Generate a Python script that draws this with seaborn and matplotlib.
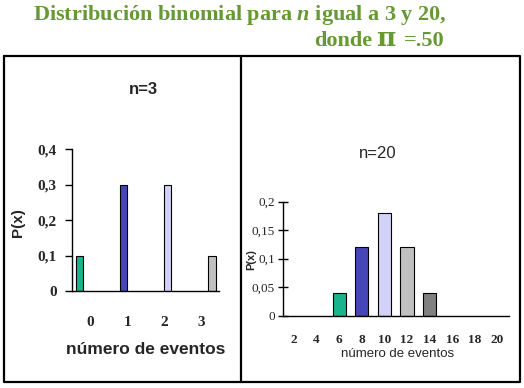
# Distribución binomial para n = 3 y n = 20, pi = .50
import pandas as pd
import seaborn as sns
import matplotlib.pyplot as plt
from matplotlib import font_manager
from matplotlib.lines import Line2D

# n = 3
eventos_n3 = ['0', '1', '2', '3']
prob_n3 = [0.1, 0.3, 0.3, 0.1]
colores_n3 = ['#00CC99', '#3333CC', '#CCCCFF', '#C0C0C0']
yticks_n3 = [0, 0.1, 0.2, 0.3, 0.4]
ylabels_n3 = ['0', '0,1', '0,2', '0,3', '0,4']

# n = 20 (solo se ven las barras de 6 a 14)
categorias_n20 = ['2', '4', '6', '8', '10', '12', '14', '16', '18', '20']
eventos_n20 = ['6', '8', '10', '12', '14']
prob_n20 = [0.04, 0.12, 0.18, 0.12, 0.04]
colores_n20 = ['#00CC99', '#3333CC', '#CCCCFF', '#C0C0C0', '#808080']
yticks_n20 = [0, 0.05, 0.1, 0.15, 0.2]
ylabels_n20 = ['0', '0,05', '0,1', '0,15', '0,2']

sns.set_style('white')
plt.rcParams['font.family'] = ['Liberation Sans', 'DejaVu Sans']
plt.rcParams['mathtext.fontset'] = 'custom'
plt.rcParams['mathtext.it'] = 'Liberation Serif:italic:bold'
plt.rcParams['mathtext.rm'] = 'Liberation Serif:bold'

names = {f.name for f in font_manager.fontManager.ttflist}
narrow = 'Liberation Sans Narrow' if 'Liberation Sans Narrow' in names else 'Liberation Sans'
serif = 'Liberation Serif'
verde = '#669933'

W, H = 524, 388
fig = plt.figure(figsize=(W / 100, H / 100), dpi=100)

def fx(px):
    return px / W

def fy(py):
    return 1 - py / H

# marco de los paneles
for xs, ys in [([4, 520, 520, 4, 4], [56, 56, 382, 382, 56]), ([240.5, 240.5], [56, 382])]:
    fig.add_artist(Line2D([fx(v) for v in xs], [fy(v) for v in ys], color='black', lw=1.6))

# titulo
fig.text(fx(239.5), fy(20), r'Distribución binomial para $n$ igual a 3 y 20,',
         ha='center', va='baseline', color=verde, fontsize=16,
         fontfamily=serif, fontweight='bold')
fig.text(fx(372), fy(46), 'donde', ha='right', va='baseline', color=verde,
         fontsize=16, fontfamily=serif, fontweight='bold')
fig.text(fx(376), fy(46), 'π', ha='left', va='baseline', color=verde,
         fontsize=19, fontfamily='DejaVu Serif', fontweight='bold')
fig.text(fx(404), fy(46), '=.50', ha='left', va='baseline', color=verde,
         fontsize=16, fontfamily=serif, fontweight='bold')

# ---- panel izquierdo: n = 3
ax1 = fig.add_axes([fx(72), fy(291), fx(219.3 - 72), (291 - 149.3) / H])
df3 = pd.DataFrame({'evento': eventos_n3, 'prob': prob_n3})
sns.barplot(data=df3, x='evento', y='prob', hue='evento', hue_order=eventos_n3,
            order=eventos_n3, palette=colores_n3, dodge=True, width=0.8,
            edgecolor='black', linewidth=0.8, legend=False, ax=ax1)
ax1.set_xlim(-0.5, 3.5)
ax1.set_ylim(0, 0.4)
ax1.set_yticks(yticks_n3)
ax1.set_yticklabels(ylabels_n3, fontfamily=serif, fontweight='bold', fontsize=11)
ax1.set_xticks(range(4))
ax1.set_xticklabels(eventos_n3, fontfamily=serif, fontweight='bold', fontsize=11)
ax1.set_xticks([-0.5, 0.5, 1.5, 2.5, 3.5], minor=True)
ax1.tick_params(axis='x', which='major', length=0, pad=18)
ax1.tick_params(axis='x', which='minor', length=5, width=1, direction='out', color='black')
ax1.tick_params(axis='y', length=5, width=1, direction='out', color='black', pad=6, left=True)
ax1.set_xlabel('número de eventos', fontsize=12.5, fontweight='bold')
ax1.xaxis.set_label_coords((146 - 72) / 147.3, (291 - 350) / 141.7)
ax1.xaxis.label.set_va('center')
ax1.set_ylabel('P(x)', fontsize=11, fontweight='bold')
ax1.yaxis.set_label_coords((18 - 72) / 147.3, 0.48)
ax1.yaxis.label.set_va('center')
ax1.text((143 - 72) / 147.3, (291 - 89) / 141.7, 'n=3', transform=ax1.transAxes,
         ha='center', va='center', fontsize=12, fontweight='bold')

# ---- panel derecho: n = 20
ax2 = fig.add_axes([fx(282.7), fy(315.7), fx(508.7 - 282.7), (315.7 - 201.7) / H])
df20 = pd.DataFrame({'evento': eventos_n20, 'prob': prob_n20})
sns.barplot(data=df20, x='evento', y='prob', hue='evento', hue_order=eventos_n20,
            order=categorias_n20, palette=colores_n20, width=0.58, dodge=False,
            edgecolor='black', linewidth=0.8, legend=False, ax=ax2)
ax2.set_xlim(-0.5, 9.5)
ax2.set_ylim(0, 0.2)
ax2.set_yticks(yticks_n20)
ax2.set_yticklabels(ylabels_n20, fontfamily=serif, fontsize=9.5)
ax2.set_xticks(range(len(categorias_n20)))
ax2.set_xticklabels(categorias_n20, fontfamily=serif, fontweight='bold', fontsize=9.5)
ax2.set_xticks([i - 0.5 for i in range(len(categorias_n20) + 1)], minor=True)
ax2.tick_params(axis='x', which='major', length=0, pad=13)
ax2.tick_params(axis='x', which='minor', length=7, width=1, direction='inout', color='black')
ax2.tick_params(axis='y', length=7, width=1, direction='inout', color='black', pad=2, left=True)
ax2.set_xlabel('número de eventos', fontsize=9.5, fontfamily=narrow)
ax2.xaxis.set_label_coords((397.5 - 282.7) / 226, (315.7 - 354) / 114)
ax2.xaxis.label.set_va('center')
ax2.set_ylabel('P(x)', fontsize=8, fontweight='bold', fontfamily=narrow)
ax2.yaxis.set_label_coords((251.5 - 282.7) / 226, 0.49)
ax2.yaxis.label.set_va('center')
ax2.text((378 - 282.7) / 226, (315.7 - 154) / 114, 'n=20', transform=ax2.transAxes,
         ha='center', va='center', fontsize=12, fontfamily=narrow)

for ax in (ax1, ax2):
    sns.despine(ax=ax)
    for s in ('left', 'bottom'):
        ax.spines[s].set_color('black')
        ax.spines[s].set_linewidth(1)

fig.savefig('out.png', dpi=100)
